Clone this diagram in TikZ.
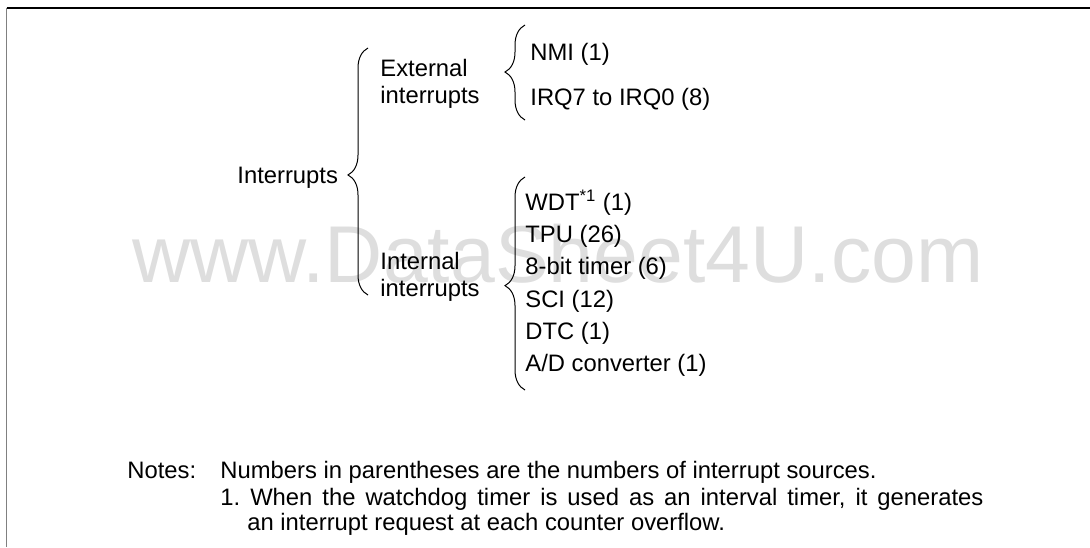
\documentclass[tikz,border=0pt]{standalone}
\usepackage{fontspec}
\setmainfont{Liberation Sans}
\usetikzlibrary{positioning, decorations.pathreplacing}
\frenchspacing

\begin{document}
\begin{tikzpicture}[
    x=0.5pt, y=-0.5pt,
    node distance=16.1pt,
    every node/.style={font=\fontsize{11.9}{13.5}\selectfont, inner sep=0pt},
    txt/.style={anchor=base west, align=left},
    src/.style={anchor=base west},
    brace/.style={decorate, decoration={brace, amplitude=10pt, aspect=#1}, line width=0.5pt}
]
\useasboundingbox (0,0) rectangle (1090,547);

% frame
\draw[line width=0.65pt] (6.5,8) -- (1090,8);
\draw[line width=0.85pt, black!50] (6.5,8) -- (6.5,547);

% watermark
\node[src, font=\fontsize{40.3}{40.3}\selectfont, text=black!13] (wmark) at (132,282) {www.DataSheet4U.com};

\node[src] (intr) at (237,183.5) {Interrupts};
\node[txt] (ext) at (380,103.5) {External\\interrupts};
\node[txt] (int) at (380,296.5) {Internal\\interrupts};

\node[src] (nmi) at (530,60.5) {NMI (1)};
\node[below=22.5pt of nmi.base west, src] (irq) {IRQ7 to IRQ0 (8)};

\node[src] (wdt) at (525,210.5) {WDT\textsuperscript{*1} (1)};
\node[below=of wdt.base west, src] (tpu) {TPU (26)};
\node[below=of tpu.base west, src] (tmr) {8-bit timer (6)};
\node[below=of tmr.base west, src] (sci) {SCI (12)};
\node[below=of sci.base west, src] (dtc) {DTC (1)};
\node[below=of dtc.base west, src] (adc) {A/D converter (1)};

% braces
\coordinate (intrbot) at (368,295);
\coordinate (intrtop) at (368,48);
\coordinate (extbot) at (525,120);
\coordinate (exttop) at (525,25);
\coordinate (intbot) at (525,390);
\coordinate (inttop) at (525,177);
\draw[brace=0.486] (intrbot) -- (intrtop);
\draw[brace=0.505] (extbot) -- (exttop);
\draw[brace=0.49] (intbot) -- (inttop);

% notes
\node[src] (notes) at (127,478.5) {Notes:};
\node[src] (note0) at (220,478.5) {Numbers in parentheses are the numbers of interrupt sources.};
\node[below=13.5pt of note0.base west, src] (note1) {\makebox[381.5pt][s]{1. When the watchdog timer is used as an interval timer, it generates}};
\node[below=12.5pt of note1.base west, src, xshift=13.5pt] (note1b) {an interrupt request at each counter overflow.};

\end{tikzpicture}
\end{document}
